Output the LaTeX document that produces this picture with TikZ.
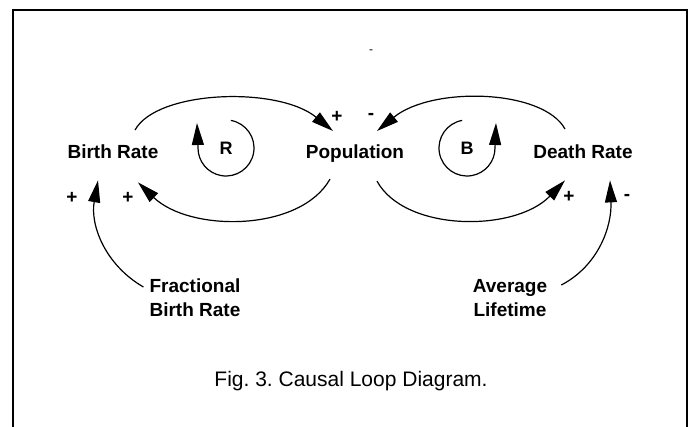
\documentclass[tikz,border=0pt]{standalone}
\usepackage{fontspec}
\setmainfont{Liberation Sans}
\usepackage{tikz}
\usetikzlibrary{arrows.meta}
\frenchspacing

\begin{document}
\begin{tikzpicture}[x=1pt, y=-1pt,
  lbl/.style={font=\fontsize{19}{24}\selectfont\bfseries, inner sep=0pt},
  loopsym/.style={font=\fontsize{18}{20}\selectfont\bfseries, inner sep=0pt},
  sign/.style={font=\fontsize{19}{20}\selectfont\bfseries, inner sep=0pt},
  link/.style={line width=1.2pt, -{Triangle[length=22pt,width=12pt]}}]
\useasboundingbox (0,0) rectangle (691,427);
\draw[line width=2pt] (12.5,427) |- (687,10) -- (687,427);

\node[lbl, anchor=base] (birth) at (113,159) {Birth Rate};
\node[lbl, anchor=base] (pop) at (355,159) {Population};
\node[lbl, anchor=base] (death) at (583,159) {Death Rate};
\node[lbl, align=center] (frac) at (195,298) {Fractional\\Birth Rate};
\node[lbl, align=center] (life) at (510,298) {Average\\Lifetime};
\node[loopsym] (r) at (226,148) {R};
\node[loopsym] (b) at (467,148) {B};
\node[sign] (s1) at (337,117) {+};
\node[sign] (s2) at (371,116) {-};
\node[sign] (s3) at (128,198) {+};
\node[sign] (s4) at (72,198) {+};
\node[sign] (s5) at (569,197) {+};
\node[sign] (s6) at (627,197) {-};
\node[font=\fontsize{12}{14}\selectfont, inner sep=0pt] (tick) at (371,52) {-};
\node[font=\fontsize{21}{25}\selectfont, anchor=base] (cap) at (351,387) {Fig. 3. Causal Loop Diagram.};

\draw[link] ([shift={(22,-15)}]birth.north) .. controls +(22,-40) and +(-55,-45) .. ([shift={(-22,-14)}]pop.north);
\draw[link] ([shift={(-18,-16)}]death.north) .. controls +(-22,-40) and +(55,-45) .. ([shift={(22,-14)}]pop.north);
\draw[link] ([shift={(-25,16)}]pop.south) .. controls +(-30,53) and +(52,50) .. ([shift={(25,23)}]birth.south);
\draw[link] ([shift={(22,18)}]pop.south) .. controls +(28,51) and +(-50,52) .. ([shift={(-18,21)}]death.south);
\draw[link] ([shift={(-6,-11)}]frac.west) .. controls +(-38,-22) and +(-8,45) .. ([shift={(-15,21)}]birth.south);
\draw[link] ([shift={(14,-13)}]life.east) .. controls +(38,-20) and +(2,45) .. ([shift={(27,21)}]death.south);
\draw[link] (r.center) ++(-80:28) arc[start angle=-80, end angle=180, radius=28] -- ++(-1,-25);
\draw[link] (b.center) ++(-100:28) arc[start angle=-100, end angle=-360, radius=28] -- ++(1,-25);
\end{tikzpicture}
\end{document}
